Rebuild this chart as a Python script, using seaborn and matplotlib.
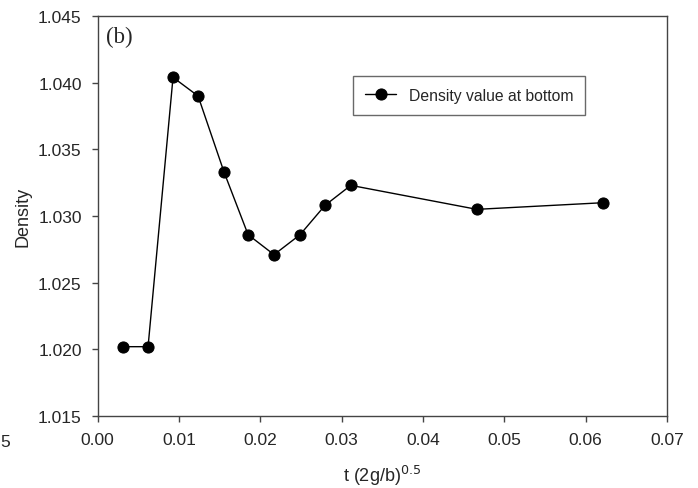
import matplotlib
matplotlib.use("Agg")
import matplotlib.pyplot as plt
import seaborn as sns
import pandas as pd

t_values = [0.00311, 0.00619, 0.00926, 0.01234, 0.01553, 0.01849, 0.02168,
            0.02488, 0.02795, 0.03112, 0.04662, 0.06219]
density_values = [1.0202, 1.0202, 1.0404, 1.0390, 1.0333, 1.0286, 1.0271,
                  1.0286, 1.0308, 1.0323, 1.0305, 1.0310]
x_ticks = [0.00, 0.01, 0.02, 0.03, 0.04, 0.05, 0.06, 0.07]
y_ticks = [1.015, 1.020, 1.025, 1.030, 1.035, 1.040, 1.045]
series_label = "Density value at bottom"

df = pd.DataFrame({"t": t_values, "density": density_values})

sns.set_style("white")
plt.rcParams['font.family'] = ['Liberation Sans', 'DejaVu Sans']

fig = plt.figure(figsize=(6.98, 4.89), dpi=100)
ax = fig.add_axes([0.140, 0.1472, 0.8156, 0.818])

sns.lineplot(data=df, x="t", y="density", ax=ax, color="black", linewidth=1.0,
             marker="o", markersize=8, markeredgecolor="black",
             markerfacecolor="black", label=series_label, sort=False)

ax.set_xlim(0, 0.07)
ax.set_ylim(1.015, 1.045)
ax.set_xticks(x_ticks)
ax.set_xticklabels([f"{v:.2f}" for v in x_ticks])
ax.set_yticks(y_ticks)
ax.set_yticklabels([f"{v:.3f}" for v in y_ticks])
ax.tick_params(axis="both", direction="out", length=4.5, width=1, color="#444444",
               labelsize=12.5, bottom=True, left=True, top=False, right=False, pad=7)
for s in ax.spines.values():
    s.set_color("#444444")
    s.set_linewidth(1.0)

ax.set_xlabel(r"t (2g/b)$^{0.5}$", fontsize=13, labelpad=11.5)
ax.set_ylabel("Density", fontsize=13, labelpad=5)

leg = ax.legend(loc="upper left", bbox_to_anchor=(0.449, 0.85), frameon=True,
                fancybox=False, fontsize=11.3, handlelength=2.0, borderpad=0.75,
                borderaxespad=0, edgecolor="#444444")
leg.get_frame().set_linewidth(1.0)

ax.text(0.014, 0.976, "(b)", transform=ax.transAxes, ha="left", va="top",
        fontsize=16.5, family=["Liberation Serif", "DejaVu Serif"])

fig.text(0.5 / 698, 1 - 443 / 489, "5", fontsize=12.5, ha="left", va="center")

fig.savefig("out.png", dpi=100)
